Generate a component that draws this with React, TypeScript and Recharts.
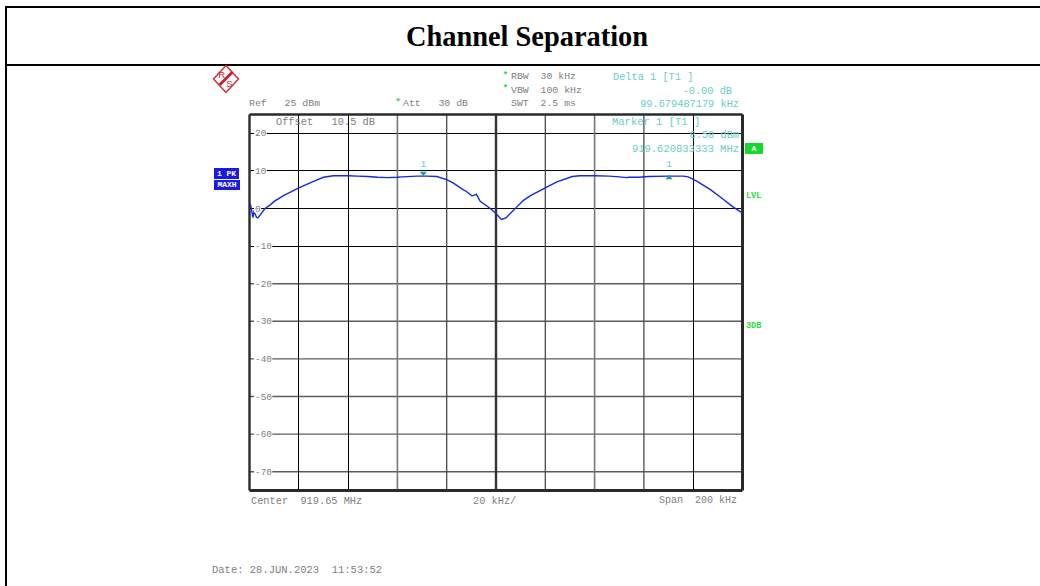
import { LineChart, Line, XAxis, YAxis, CartesianGrid, ReferenceLine, ReferenceDot } from 'recharts';

// trace readings: offset from the start frequency (kHz) and level (dBm)
const offsetKHz = [
    0, 0.4, 1, 1.4, 1.8, 2.4, 2.8, 3.4, 6.3, 8.3, 10, 14, 20, 26, 30, 34, 40, 44, 48, 52, 56, 60, 62, 68, 72, 76,
    80, 82.6, 86, 88.3, 90.2, 91, 92, 93.6, 97.7, 100, 101.7, 102.2, 104, 108, 111, 114, 120, 124.7, 131, 134, 140, 146,
    150, 153, 154, 158, 162, 170, 176, 178, 181.6, 187, 192.3, 196, 199.2, 200,
];
const levelDbm = [
    1.2, 1.0, -1.0, -2.4, -0.9, -1.6, -2.3, -2.5, 0.0, 0.9, 1.9, 3.5, 5.5, 7.2, 8.3, 8.7, 8.7, 8.6, 8.5, 8.3, 8.2, 8.3,
    8.4, 8.6, 8.6, 8.5, 7.7, 6.8, 5.3, 4.4, 3.4, 3.5, 3.8, 1.9, 0.0, -1.3, -2.6, -2.9, -2.5, 0.1, 2.1, 3.4, 5.5, 7.1, 8.5, 8.7, 8.7,
    8.6, 8.4, 8.2, 8.3, 8.3, 8.5, 8.6, 8.6, 8.4, 7.2, 5.0, 2.4, 0.5, -0.9, -1.2,
];

const levelTicks = [20, 10, 0, -10, -20, -30, -40, -50, -60, -70];
const darkLevels = [20, 10, 0, -10];
const softLevels = [-20, -30, -40, -50, -60, -70];
const blackOffsets = [20, 40, 180];
const midOffsets = [80, 120, 160];
const softOffsets = [60, 140];

const traceData = offsetKHz.map((offset, i) => ({ offset, level: levelDbm[i] }));

const MONO = '"Liberation Mono", monospace';
const GRAY = '#808080';
const TEAL = '#6accca';
const GREEN = '#22e03a';
const PLOT_LEFT = 249.5;

const labels = [
    { text: 'Ref   25 dBm', x: 249, y: 104, color: GRAY, size: 9.9 },
    { text: 'Att   30 dB', x: 403, y: 104, color: GRAY, size: 9.85 },
    { text: 'RBW  30 kHz', x: 511, y: 77, color: GRAY, size: 9.85 },
    { text: 'VBW  100 kHz', x: 511, y: 91, color: GRAY, size: 9.85 },
    { text: 'SWT  2.5 ms', x: 511, y: 104, color: GRAY, size: 9.85 },
    { text: 'Delta 1 [T1 ]', x: 613, y: 77, color: TEAL },
    { text: '-0.00 dB', right: 732, y: 91, color: TEAL },
    { text: '99.679487179 kHz', right: 739, y: 104, color: TEAL },
    { text: 'Offset   10.5 dB', x: 276, y: 122, color: GRAY },
    { text: 'Marker 1 [T1 ]', x: 612, y: 122, color: TEAL, size: 10.5 },
    { text: '8.58 dBm', right: 739, y: 135, color: TEAL },
    { text: '919.620833333 MHz', right: 739, y: 149, color: TEAL, size: 10.5 },
    { text: 'Center  919.65 MHz', x: 251, y: 501, color: GRAY },
    { text: '20 kHz/', x: 473, y: 501, color: GRAY },
    { text: 'Span  200 kHz', x: 659, y: 501, color: GRAY, size: 10 },
    { text: 'Date: 28.JUN.2023  11:53:52', x: 212, y: 570, color: GRAY, size: 10.5 },
    { text: 'LVL', x: 746, y: 196, color: GREEN, size: 8.5, bold: true },
    { text: '3DB', x: 746, y: 326, color: GREEN, size: 8.5, bold: true },
];

const stars = [
    { x: 505.5, y: 76 },
    { x: 505.5, y: 89 },
    { x: 398, y: 103 },
];

const badges = [
    { text: '1 PK', left: 214, top: 168, width: 25, height: 11, bg: '#1a1ae6' },
    { text: 'MAXH', left: 214, top: 180, width: 26, height: 10, bg: '#1a1ae6' },
    { text: 'A', left: 745, top: 143, width: 18, height: 11, bg: '#14d82c' },
];

const LevelTick = ({ y, payload }: any) => {
    const label = String(payload.value);
    return (
        <g>
            <rect x={PLOT_LEFT + 4.5} y={y - 4} width={label.length * 5.6 + 1.5} height={8} fill="#fff" />
            <text x={PLOT_LEFT + 5.5} y={y + 3} fontFamily={MONO} fontSize={9.4} fill={GRAY}>
                {label}
            </text>
        </g>
    );
};

const DeltaMarker = ({ cx, cy }: any) => (
    <g>
        <path d={`M${cx - 3.5} ${cy - 4.5}L${cx + 3.5} ${cy - 4.5}L${cx} ${cy}Z`} fill="#1f9d9d" />
        <text x={cx} y={cy - 9} textAnchor="middle" fontFamily={MONO} fontSize={9.5} fill={TEAL}>1</text>
    </g>
);

const MainMarker = ({ cx, cy }: any) => (
    <g>
        <path d={`M${cx - 3.5} ${cy + 3}L${cx + 3.5} ${cy + 3}L${cx} ${cy - 1.5}Z`} fill="#1f9d9d" />
        <text x={cx} y={cy - 9} textAnchor="middle" fontFamily={MONO} fontSize={9.5} fill={TEAL}>1</text>
    </g>
);

const Logo = () => (
    <svg width={28} height={30} viewBox="0 0 28 30" style={{ position: 'absolute', left: 212, top: 64 }}>
        <path d="M14 1.5L26.5 15L14 28.5L1.5 15Z" fill="#fff" stroke="#d0303a" strokeWidth={1.5} />
        <path d="M20.5 8L7.5 21" stroke="#c8202c" strokeWidth={2.8} />
        <text x={9.7} y={14} textAnchor="middle" fontFamily='"Liberation Sans", sans-serif' fontSize={9.5} fill="#c8202c">R</text>
        <text x={17.3} y={23} textAnchor="middle" fontFamily='"Liberation Sans", sans-serif' fontSize={9.5} fill="#c8202c">S</text>
    </svg>
);

export default function App() {
    return (
        <div style={{ position: 'absolute', left: 0, top: 0, width: 1040, height: 586, overflow: 'hidden', background: '#fff' }}>
            <LineChart
                width={1040}
                height={586}
                data={traceData}
                margin={{ top: 114.5, left: PLOT_LEFT, right: 297.5, bottom: 95.5 }}
            >
                <CartesianGrid horizontalValues={darkLevels} vertical={false} stroke="#000" strokeWidth={1} shapeRendering="crispEdges" />
                <CartesianGrid horizontalValues={softLevels} vertical={false} stroke="#5c5c5c" strokeWidth={1.4} />
                <CartesianGrid verticalValues={blackOffsets} horizontal={false} stroke="#000" strokeWidth={1} shapeRendering="crispEdges" />
                <CartesianGrid verticalValues={midOffsets} horizontal={false} stroke="#4a4a4a" strokeWidth={1.3} />
                <CartesianGrid verticalValues={softOffsets} horizontal={false} stroke="#777" strokeWidth={1.6} />
                <XAxis type="number" dataKey="offset" domain={[0, 200]} hide />
                <YAxis
                    type="number"
                    domain={[-75, 25]}
                    ticks={levelTicks}
                    interval={0}
                    mirror
                    axisLine={false}
                    tickLine={false}
                    tick={<LevelTick />}
                />
                <ReferenceLine x={100} stroke="#333" strokeWidth={2.4} />
                <ReferenceLine x={0} stroke="#2a2a2a" strokeWidth={2.4} />
                <ReferenceLine x={200} stroke="#2a2a2a" strokeWidth={3} />
                <ReferenceLine y={25} stroke="#2a2a2a" strokeWidth={2.4} />
                <ReferenceLine y={-75} stroke="#2a2a2a" strokeWidth={3} />
                <Line
                    dataKey="level"
                    type="linear"
                    stroke="#1428e6"
                    strokeWidth={1.4}
                    dot={false}
                    isAnimationActive={false}
                />
                <ReferenceDot x={70.5} y={8.6} shape={<DeltaMarker />} />
                <ReferenceDot x={170.2} y={8.58} shape={<MainMarker />} />
            </LineChart>

            {/* report frame and title */}
            <div style={{ position: 'absolute', left: 5, top: 6, right: 0, height: 2, background: '#000' }} />
            <div style={{ position: 'absolute', left: 5, top: 64, right: 0, height: 2, background: '#000' }} />
            <div style={{ position: 'absolute', left: 5, top: 6, width: 2, bottom: 0, background: '#000' }} />
            <div
                style={{
                    position: 'absolute',
                    left: 14,
                    right: 0,
                    top: 20,
                    textAlign: 'center',
                    fontFamily: '"Liberation Serif", serif',
                    fontWeight: 700,
                    fontSize: 28.4,
                    lineHeight: '34px',
                    color: '#000',
                }}
            >
                Channel Separation
            </div>

            <Logo />

            {labels.map((l) => (
                <div
                    key={l.text}
                    style={{
                        position: 'absolute',
                        left: l.x,
                        right: l.right !== undefined ? 1040 - l.right : undefined,
                        top: l.y - 7,
                        height: 14,
                        lineHeight: '14px',
                        whiteSpace: 'pre',
                        fontFamily: MONO,
                        fontSize: l.size ?? 10.3,
                        fontWeight: l.bold ? 700 : 400,
                        color: l.color,
                    }}
                >
                    {l.text}
                </div>
            ))}

            {stars.map((s) => (
                <div
                    key={`${s.x}-${s.y}`}
                    style={{
                        position: 'absolute',
                        left: s.x - 3,
                        top: s.y - 6,
                        width: 6,
                        textAlign: 'center',
                        lineHeight: '12px',
                        fontFamily: MONO,
                        fontSize: 9,
                        fontWeight: 700,
                        color: GREEN,
                    }}
                >
                    *
                </div>
            ))}

            {badges.map((b) => (
                <div
                    key={b.text}
                    style={{
                        position: 'absolute',
                        left: b.left,
                        top: b.top,
                        width: b.width,
                        height: b.height,
                        lineHeight: `${b.height}px`,
                        background: b.bg,
                        color: '#fff',
                        textAlign: 'center',
                        whiteSpace: 'pre',
                        fontFamily: MONO,
                        fontSize: 8,
                        fontWeight: 700,
                    }}
                >
                    {b.text}
                </div>
            ))}
        </div>
    );
}
